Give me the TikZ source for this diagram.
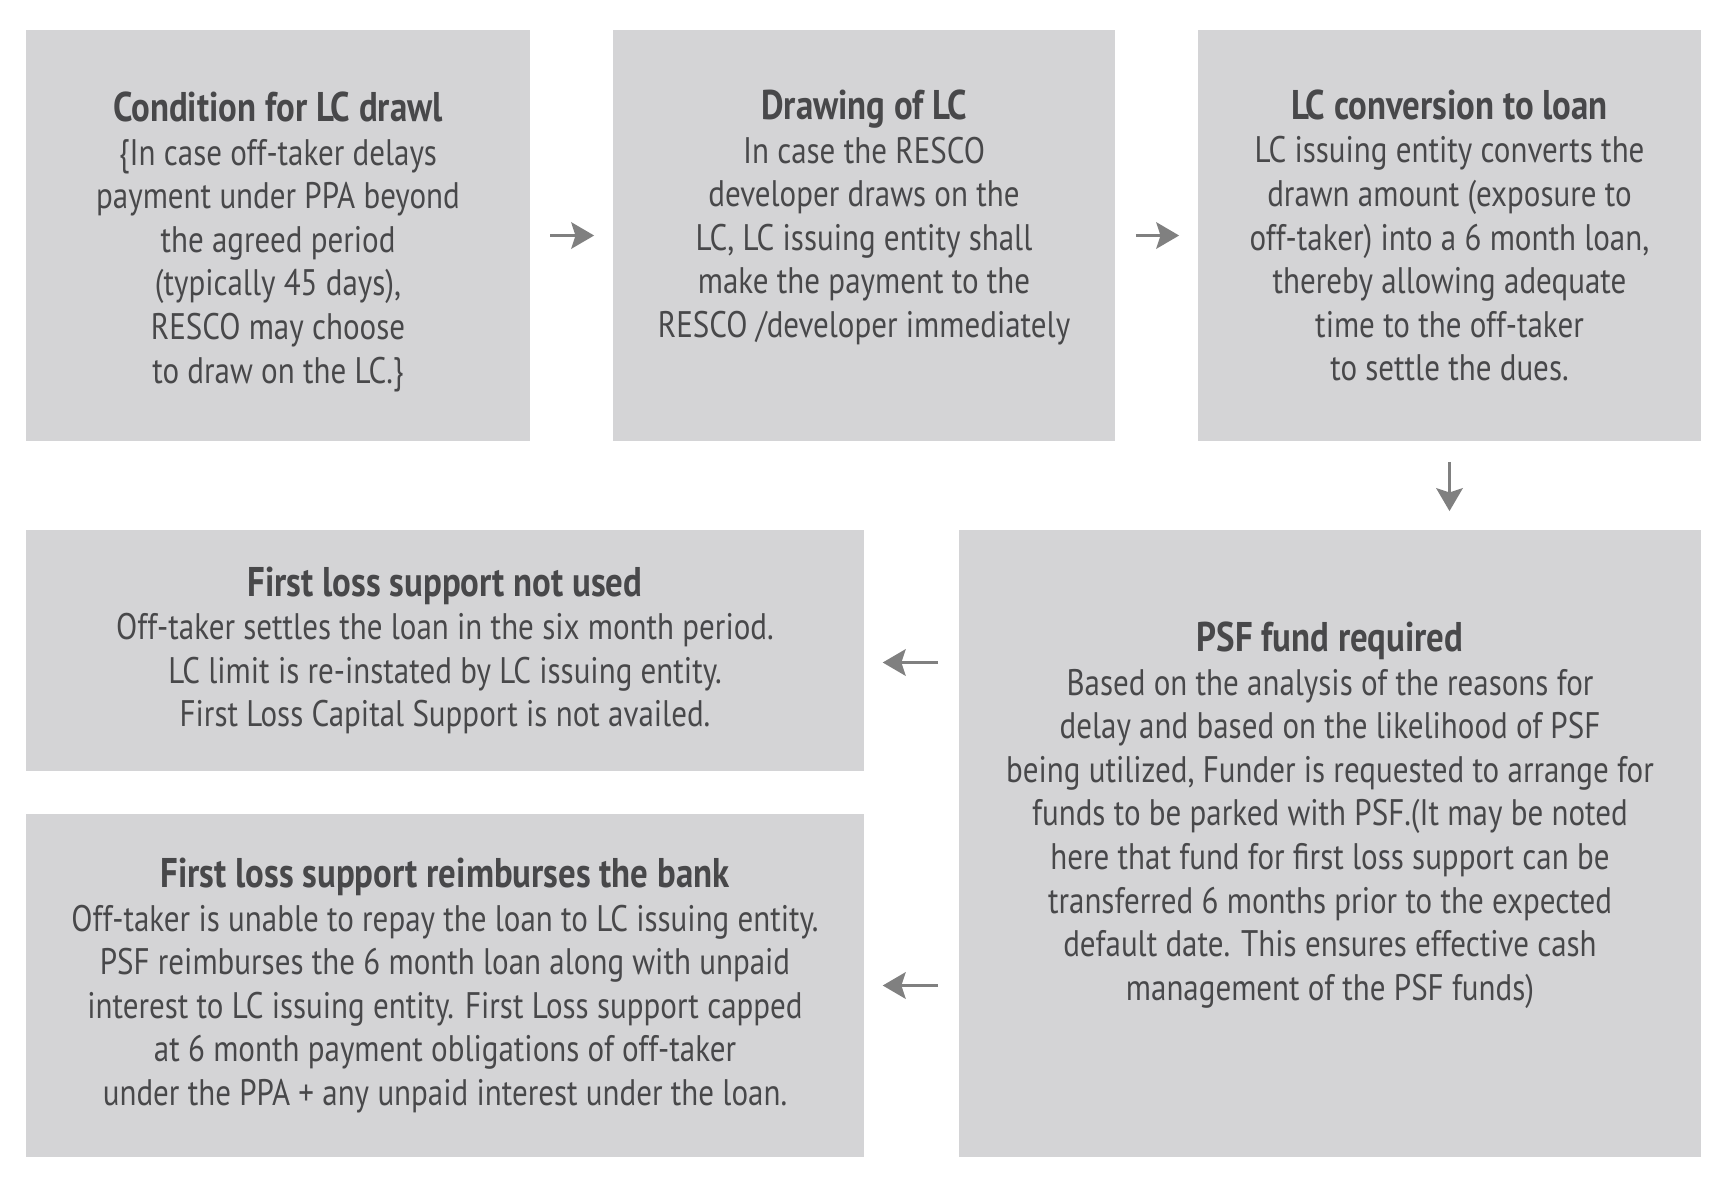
\documentclass[tikz,border=0pt]{standalone}
\usepackage{fontspec}
\setmainfont{PT Sans}[FakeStretch=0.84]
\usetikzlibrary{arrows.meta,calc}
\definecolor{boxfill}{RGB}{212,212,214}
\definecolor{boxtext}{RGB}{72,72,74}
\definecolor{arrowgray}{RGB}{128,128,128}
\newcommand\hd[1]{{\fontsize{11.8}{12.4}\selectfont\bfseries #1}\\}
\tikzset{stage/.style={fill=boxfill,text=boxtext,align=center,inner sep=0pt,
 font=\fontsize{10.5}{12.4}\selectfont},
 flow/.style={-{Stealth[length=6.5pt,width=7.5pt,inset=1.2pt]},arrowgray,line width=1pt,
 shorten <=.2cm,shorten >=.18cm}}

\begin{document}
\begin{tikzpicture}[x=.01cm,y=-.01cm]
\useasboundingbox (0,0) rectangle (1732,1190);
\node[stage,minimum width=5.03cm,minimum height=4.11cm] (b1) at (278,235.5)
 {\hd{Condition for LC drawl}\{In case off-taker delays\\payment under PPA beyond\\the agreed period\\(typically 45 days),\\RESCO may choose\\to draw on the LC.\}\\[-13.5pt]\mbox{}};
\node[stage,minimum width=5.02cm,minimum height=4.11cm] (b2) at (864,235.5)
 {\hd{Drawing of LC}In case the RESCO\\developer draws on the\\LC, LC issuing entity shall\\make the payment to the\\RESCO /developer immediately\\\mbox{}};
\node[stage,minimum width=5.03cm,minimum height=4.11cm] (b3) at (1449.5,235.5)
 {\hd{LC conversion to loan}LC issuing entity converts the\\drawn amount (exposure to\\off-taker) into a 6 month loan,\\thereby allowing adequate\\time to the off-taker\\to settle the dues.};
\node[stage,minimum width=8.375cm,minimum height=2.41cm] (b4) at (445,650.5)
 {\hd{First loss support not used}Off-taker settles the loan in the six month period.\\LC limit is re-instated by LC issuing entity.\\First Loss Capital Support is not availed.};
\node[stage,minimum width=8.375cm,minimum height=3.43cm] (b5) at (445,985.5)
 {\hd{First loss support reimburses the bank}Off-taker is unable to repay the loan to LC issuing entity.\\PSF reimburses the 6 month loan along with unpaid\\interest to LC issuing entity. First Loss support capped\\at 6 month payment obligations of off-taker\\under the PPA + any unpaid interest under the loan.};
\node[stage,minimum width=7.42cm,minimum height=6.27cm] (b6) at (1330,843.5)
 {\hd{PSF fund required}Based on the analysis of the reasons for\\delay and based on the likelihood of PSF\\being utilized, Funder is requested to arrange for\\funds to be parked with PSF.(It may be noted\\here that fund for first loss support can be\\transferred 6 months prior to the expected\\default date. This ensures effective cash\\management of the PSF funds)\\[6pt]\mbox{}};
\foreach \a/\b in {b1/b2,b2/b3}
 \draw[flow] (\a.east) -- (\b.west);
\draw[flow] (b3.south) -- (b3.south |- b6.north);
\draw[flow] ($(b6.west |- b4.east)+(0,12)$) -- ($(b4.east)+(0,12)$);
\draw[flow] (b6.west |- b5.east) -- (b5.east);
\end{tikzpicture}
\end{document}
